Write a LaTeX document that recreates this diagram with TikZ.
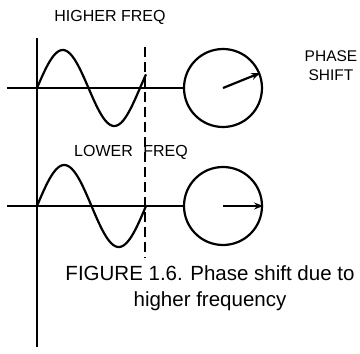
\documentclass[tikz,border=0pt]{standalone}
\usepackage{fontspec}
\setmainfont{Liberation Sans}
\usetikzlibrary{arrows.meta}
\begin{document}
\begin{tikzpicture}[x=1pt,y=-1pt,
  axis/.style={line width=2.4pt},
  wave/.style={line width=2.2pt,smooth},
  dial/.style={circle,draw,line width=2.2pt,minimum size=78pt,inner sep=0pt},
  pointer/.style={line width=2.2pt,-{Stealth[length=9pt,width=7pt]}},
  guide/.style={line width=2.4pt,dash pattern=on 10pt off 5pt},
  lbl/.style={font=\fontsize{16}{19}\selectfont,anchor=base,inner sep=0pt},
  captiontext/.style={font=\fontsize{20.5}{26.5}\selectfont,anchor=base,inner sep=0pt,align=center}]
\useasboundingbox (0,0) rectangle (360,354);
% vertical axis
\coordinate (vtop) at (37,38);
\coordinate (vbot) at (37,347);
\draw[axis] (vtop) -- (vbot);
% dials
\node[dial] (c1) at (223,88) {};
\node[dial] (c2) at (223,206) {};
% horizontal axes
\coordinate (h1) at (7,88);
\coordinate (h2) at (7,206);
\draw[axis] (h1) -- (c1.west);
\draw[axis] (h2) -- (c2.west);
% dashed guide
\coordinate (dtop) at (145,47);
\coordinate (dbot) at (145,258);
\draw[guide] (dtop) -- (dbot);
% waves
\draw[wave] plot[domain=37:146,samples=80] (\x,{88-38*sin(3.4951*(\x-37))});
\draw[wave] plot[domain=37:146,samples=80] (\x,{206-41*sin(3.3028*(\x-37))});
% pointers
\draw[pointer] (c1.center) -- (c1.22);
\draw[pointer] (c2.center) -- (c2.east);
% labels
\node[lbl] (t1) at (110,21.5) {HIGHER FREQ};
\node[lbl] (t2) at (131,156.5) {LOWER\hspace{6pt} FREQ};
\node[lbl,align=center,font=\fontsize{15.5}{19}\selectfont] (t3) at (331,80) {PHASE\\SHIFT};
\node[captiontext] (t4) at (210,306.5) {FIGURE 1.6. Phase shift due to\\higher frequency};
\end{tikzpicture}
\end{document}
